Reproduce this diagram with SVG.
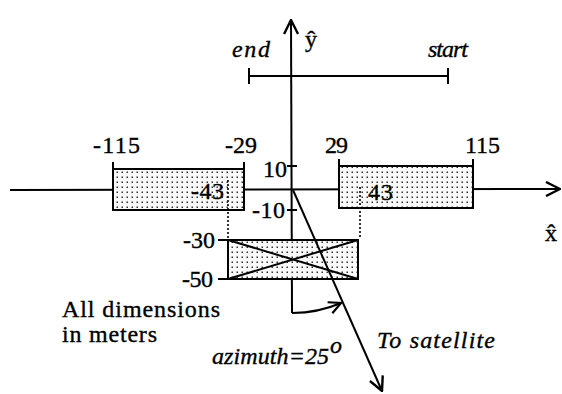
<svg xmlns="http://www.w3.org/2000/svg" width="562" height="394" viewBox="0 0 562 394">
<defs>
<pattern id="dots" width="5" height="5" patternUnits="userSpaceOnUse">
<rect width="5" height="5" fill="#fafafa"/>
<rect x="1.5" y="1.5" width="1.5" height="1.5" fill="#333"/>
</pattern>
<marker id="arr" viewBox="0 0 14 14" refX="13" refY="7" markerWidth="14" markerHeight="14" markerUnits="userSpaceOnUse" orient="auto">
<path d="M1,1 L13,7 L1,13" fill="none" stroke="#000" stroke-width="2.2"/>
</marker>
<marker id="arrL" viewBox="0 0 16 16" refX="15" refY="8" markerWidth="16" markerHeight="16" markerUnits="userSpaceOnUse" orient="auto">
<path d="M1,1 L15,8 L1,15" fill="none" stroke="#000" stroke-width="2.4"/>
</marker>
</defs>
<style>
text{font-family:"Liberation Serif","Times New Roman",serif;font-size:24px;fill:#000;stroke:#000;stroke-width:0.35}
.it{font-style:italic}
.ln{stroke:#000;stroke-width:2;fill:none}
.box{fill:url(#dots);stroke:#000;stroke-width:2}
.dot{stroke:#000;stroke-width:1.6;stroke-dasharray:2 2;fill:none}
</style>
<rect width="562" height="394" fill="#fff"/>

<g id="connectors">
<line class="ln" x1="10" y1="190" x2="560" y2="189" marker-end="url(#arrL)"/>
<line class="ln" x1="292" y1="313" x2="291" y2="20" marker-end="url(#arrL)"/>
<line class="ln" x1="287" y1="166" x2="297" y2="166"/>
<line class="ln" x1="287" y1="210" x2="297" y2="210"/>
</g>

<g id="track">
<line class="ln" x1="249" y1="76" x2="448" y2="76"/>
<line class="ln" x1="249" y1="68" x2="249" y2="84"/>
<line class="ln" x1="448" y1="68" x2="448" y2="84"/>
<text class="it" x="232" y="57" textLength="38">end</text>
<text class="it" x="428" y="57" textLength="40">start</text>
</g>

<g id="left-box">
<rect class="box" x="113" y="169" width="131" height="41"/>
<line class="ln" x1="113" y1="162" x2="113" y2="169"/>
<line class="ln" x1="244" y1="162" x2="244" y2="169"/>
<text x="93" y="153" textLength="47">-115</text>
<text x="225" y="153" textLength="32">-29</text>
<text x="191" y="199" textLength="33">-43</text>
</g>

<g id="right-box">
<rect class="box" x="339" y="166" width="134" height="42"/>
<line class="ln" x1="339" y1="159" x2="339" y2="166"/>
<line class="ln" x1="473" y1="159" x2="473" y2="166"/>
<text x="325" y="153" textLength="23">29</text>
<text x="465" y="153" textLength="35">115</text>
<text x="368" y="200" textLength="25">43</text>
</g>

<g id="bottom-box">
<rect class="box" x="228" y="240" width="130" height="39"/>
<line class="ln" x1="218" y1="240" x2="228" y2="240"/>
<line class="ln" x1="218" y1="279" x2="228" y2="279"/>
<line class="ln" x1="228" y1="240" x2="358" y2="279"/>
<line class="ln" x1="228" y1="279" x2="358" y2="240"/>
<text x="183" y="248" textLength="32">-30</text>
<text x="182" y="287" textLength="31">-50</text>
</g>

<g id="projections">
<line class="dot" x1="228" y1="180" x2="228" y2="240"/>
<line class="dot" x1="360" y1="187" x2="360" y2="238"/>
</g>

<g id="axis-labels">
<text x="263" y="177" textLength="24">10</text>
<text x="252" y="218" textLength="33">-10</text>
<text x="305" y="47" font-size="32" stroke-width="0.2">ŷ</text>
<text x="545" y="241" font-size="30" stroke-width="0.2">x̂</text>
</g>

<g id="satellite">
<line class="ln" x1="293" y1="190" x2="382" y2="391" marker-end="url(#arrL)"/>
<path class="ln" d="M292,313 A123,123 0 0 0 341,303" marker-end="url(#arr)"/>
<text class="it" x="377" y="348" textLength="118">To satellite</text>
<text class="it" x="212" y="364" textLength="117">azimuth=25</text>
<text class="it" x="330" y="353" font-size="16">o</text>
</g>

<g id="note">
<text x="62" y="317" textLength="158">All dimensions</text>
<text x="62" y="342" textLength="95">in meters</text>
</g>
</svg>
